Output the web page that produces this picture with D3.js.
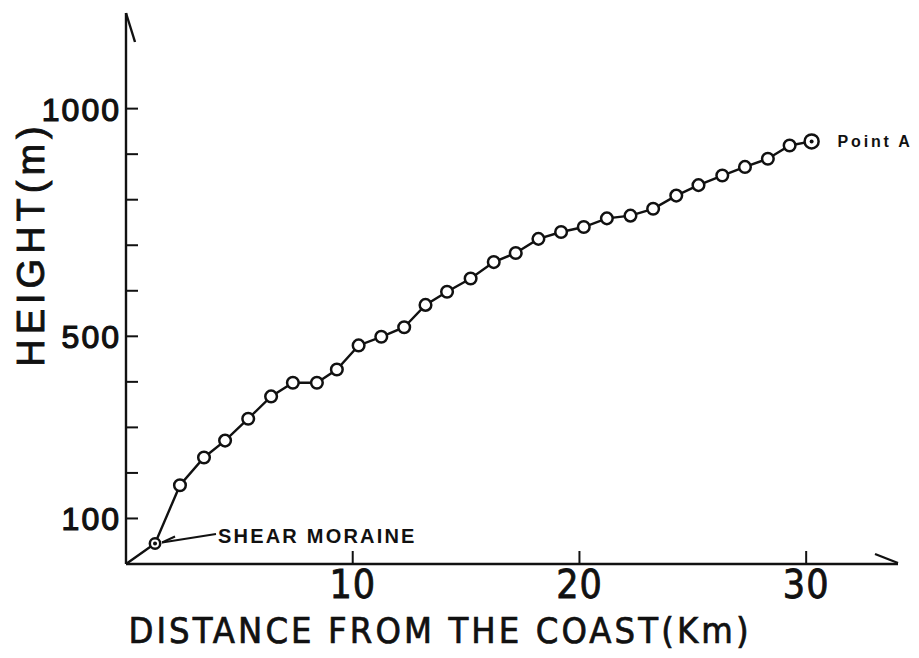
<!DOCTYPE html>
<html>
<head>
<meta charset="utf-8">
<script src="https://cdn.jsdelivr.net/npm/d3@7"></script>
<style>
  body { margin: 0; background: #fff; }
  svg { display: block; }
</style>
</head>
<body>
<div id="chart"></div>
<script>
// Height profile along the glacier, from the coast to Point A
const distanceKm = [1.28, 2.38, 3.44, 4.37, 5.39, 6.40, 7.36, 8.42, 9.30, 10.26,
    11.26, 12.27, 13.21, 14.16, 15.20, 16.22, 17.19, 18.19, 19.19, 20.19,
    21.21, 22.25, 23.25, 24.27, 25.25, 26.30, 27.30, 28.31, 29.27, 30.24];
const heightM = [45, 173, 234, 271, 319, 368, 398, 398, 427, 480,
    499, 520, 569, 598, 627, 663, 683, 714, 729, 740,
    759, 765, 780, 809, 832, 853, 872, 890, 919, 928];
const xTicks = [10, 20, 30];
const yTickLabels = [100, 500, 1000];
const yMinorTicks = [100, 200, 300, 400, 500, 600, 700, 800, 900, 1000];

const width = 919, height = 658;
const ink = '#111';
const narrow = '"Liberation Sans Narrow", "DejaVu Sans Condensed", sans-serif';
const sans = '"Liberation Sans", Arial, sans-serif';

const svg = d3.select('#chart').append('svg')
    .attr('width', width)
    .attr('height', height);

const xScale = d3.scaleLinear().domain([0, 34.05]).range([126, 898]);
const yScale = d3.scaleLinear().domain([0, 1210]).range([564, 13]);

const data = distanceKm.map((d, i) => ({ x: d, h: heightM[i] }));

// Axes (hand drawn look: plain lines with half arrows)
const x0 = xScale(0), y0 = yScale(0);
svg.append('line')
    .attr('x1', x0).attr('y1', y0)
    .attr('x2', xScale(34.05)).attr('y2', y0)
    .attr('stroke', ink).attr('stroke-width', 2.4);
svg.append('line')
    .attr('x1', x0).attr('y1', y0)
    .attr('x2', x0).attr('y2', yScale(1210))
    .attr('stroke', ink).attr('stroke-width', 2.4);
// arrow barbs
svg.append('line')
    .attr('x1', xScale(34.05)).attr('y1', y0 - 1)
    .attr('x2', xScale(34.05) - 23).attr('y2', y0 - 10)
    .attr('stroke', ink).attr('stroke-width', 2.4);
svg.append('line')
    .attr('x1', x0).attr('y1', yScale(1210))
    .attr('x2', x0 + 9).attr('y2', yScale(1210) + 29)
    .attr('stroke', ink).attr('stroke-width', 2.4);

// Ticks
svg.append('g').selectAll('line')
    .data(xTicks)
    .join('line')
    .attr('x1', d => xScale(d)).attr('x2', d => xScale(d))
    .attr('y1', y0).attr('y2', y0 - 13)
    .attr('stroke', ink).attr('stroke-width', 2);

svg.append('g').selectAll('line')
    .data(yMinorTicks)
    .join('line')
    .attr('x1', x0).attr('x2', x0 + 12)
    .attr('y1', d => yScale(d)).attr('y2', d => yScale(d))
    .attr('stroke', ink).attr('stroke-width', 2);

// Tick labels
svg.append('g').selectAll('text')
    .data(xTicks)
    .join('text')
    .attr('x', d => xScale(d))
    .attr('y', 598)
    .attr('text-anchor', 'middle')
    .style('font-family', narrow)
    .style('font-size', '39px')
    .style('letter-spacing', '1px')
    .attr('fill', ink)
    .attr('stroke', ink).attr('stroke-width', 0.8)
    .text(d => d);

svg.append('g').selectAll('text')
    .data(yTickLabels)
    .join('text')
    .attr('x', 121)
    .attr('y', d => yScale(d) + 12)
    .attr('text-anchor', 'end')
    .style('font-family', sans)
    .style('font-size', '32px')
    .style('letter-spacing', '2px')
    .attr('fill', ink)
    .attr('stroke', ink).attr('stroke-width', 1.2)
    .text(d => d);

// Axis titles
svg.append('text')
    .attr('x', 440)
    .attr('y', 643)
    .attr('text-anchor', 'middle')
    .style('font-family', narrow)
    .style('font-size', '36px')
    .style('letter-spacing', '3.1px')
    .attr('fill', ink)
    .attr('stroke', ink).attr('stroke-width', 0.7)
    .text('DISTANCE FROM THE COAST(Km)');

svg.append('text')
    .attr('transform', 'translate(44,244) rotate(-90)')
    .attr('text-anchor', 'middle')
    .style('font-family', sans)
    .style('font-size', '38px')
    .style('letter-spacing', '5px')
    .attr('fill', ink)
    .attr('stroke', ink).attr('stroke-width', 0.9)
    .text('HEIGHT(m)');

// Profile line
const line = d3.line()
    .x(d => xScale(d.x))
    .y(d => yScale(d.h));

svg.append('path')
    .datum([{ x: 0, h: 0 }].concat(data))
    .attr('d', line)
    .attr('fill', 'none')
    .attr('stroke', ink)
    .attr('stroke-width', 2.4);

svg.append('g').selectAll('circle')
    .data(data)
    .join('circle')
    .attr('cx', d => xScale(d.x))
    .attr('cy', d => yScale(d.h))
    .attr('r', (d, i) => i === data.length - 1 ? 7 : (i === 0 ? 5.2 : 5.8))
    .attr('fill', '#fff')
    .attr('stroke', ink)
    .attr('stroke-width', 2.5);

// centre dots for first and last points
const marked = [data[0], data[data.length - 1]];
svg.append('g').selectAll('circle')
    .data(marked)
    .join('circle')
    .attr('cx', d => xScale(d.x))
    .attr('cy', d => yScale(d.h))
    .attr('r', 2)
    .attr('fill', ink);

// Annotations
const first = data[0], last = data[data.length - 1];
const fx = xScale(first.x), fy = yScale(first.h);
svg.append('line')
    .attr('x1', fx + 7).attr('y1', fy - 1)
    .attr('x2', 216).attr('y2', 534)
    .attr('stroke', ink).attr('stroke-width', 2);
svg.append('line')
    .attr('x1', fx + 7).attr('y1', fy - 1)
    .attr('x2', fx + 20).attr('y2', fy - 7)
    .attr('stroke', ink).attr('stroke-width', 2);

svg.append('text')
    .attr('x', 218)
    .attr('y', 543)
    .style('font-family', sans)
    .style('font-size', '20px')
    .style('font-weight', 'bold')
    .style('letter-spacing', '2.2px')
    .attr('fill', ink)
    .text('SHEAR MORAINE');

svg.append('text')
    .attr('x', xScale(last.x) + 26)
    .attr('y', yScale(last.h) + 6)
    .style('font-family', sans)
    .style('font-size', '16px')
    .style('font-weight', 'bold')
    .style('letter-spacing', '2.8px')
    .attr('fill', ink)
    .text('Point A');
</script>
</body>
</html>
